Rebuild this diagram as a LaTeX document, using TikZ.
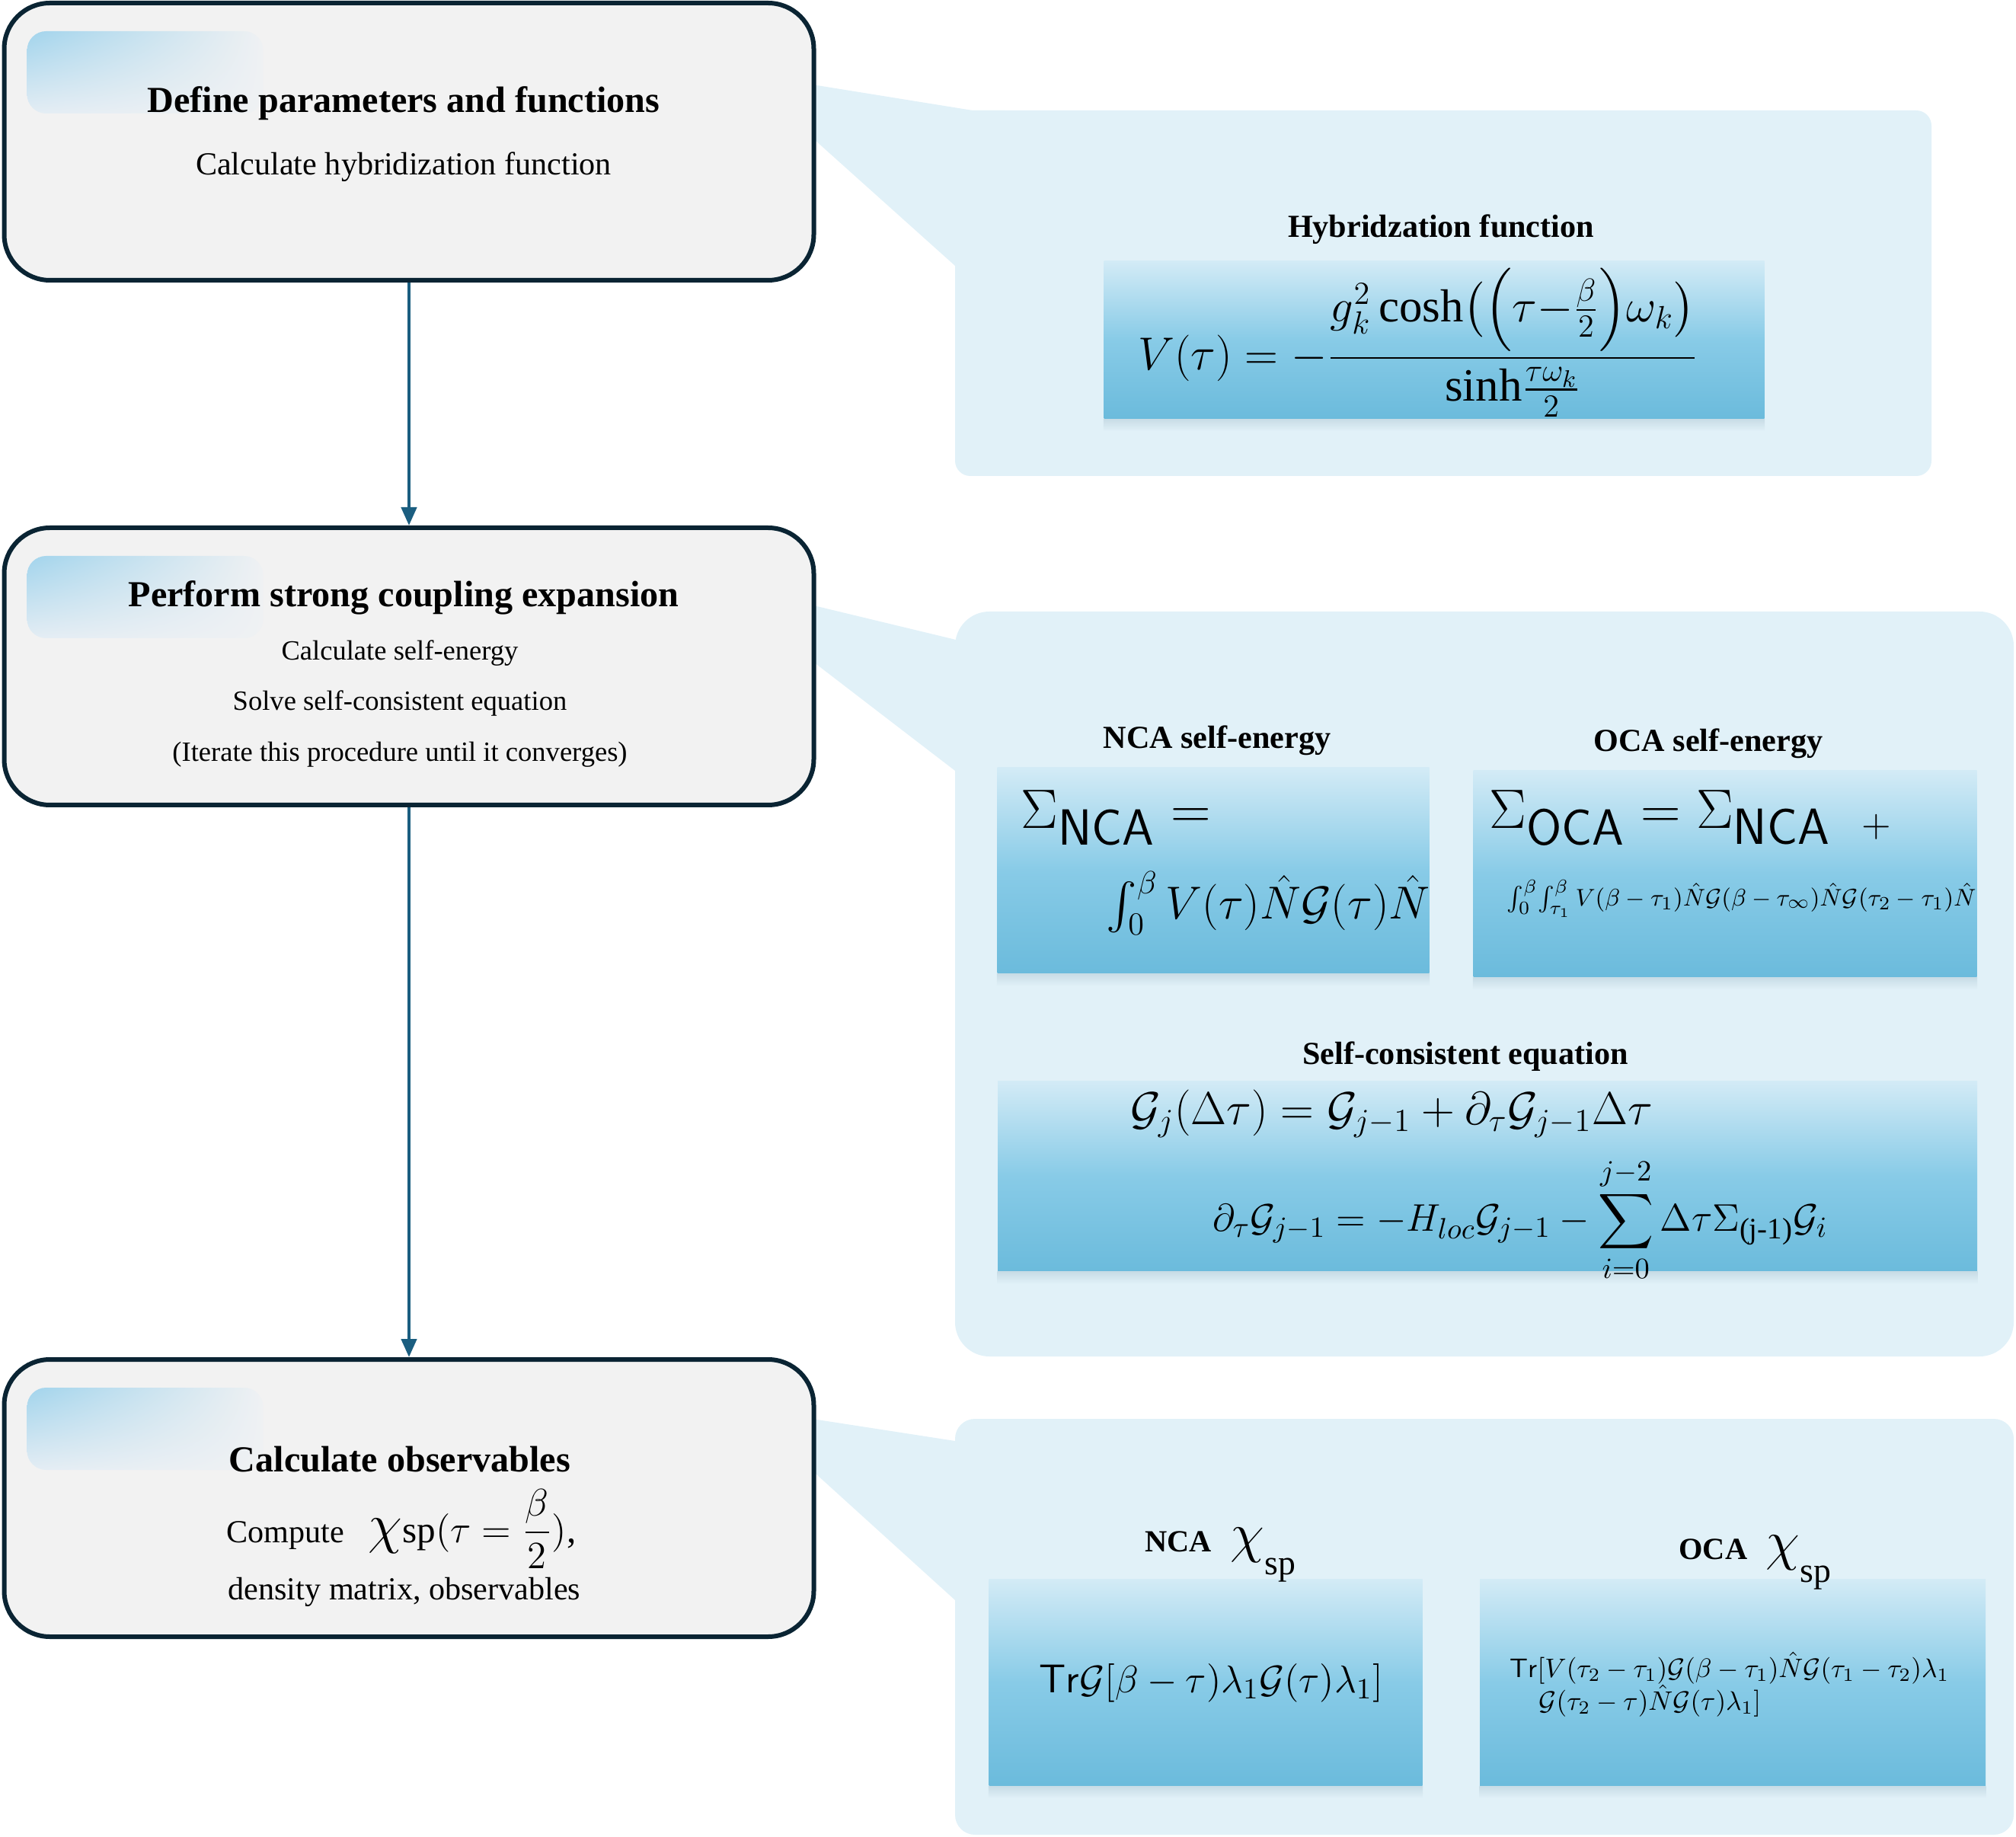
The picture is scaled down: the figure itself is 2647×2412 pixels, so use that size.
\documentclass[tikz,border=0pt]{standalone}
\usepackage{amsmath}
\usepackage{fontspec}
\setmainfont{Liberation Serif}
\usetikzlibrary{arrows.meta, shadings}
\definecolor{stageline}{HTML}{0A2433}
\definecolor{stagefill}{HTML}{F2F2F2}
\definecolor{flowc}{HTML}{1B5E80}
\definecolor{panelc}{HTML}{E1F1F8}
\definecolor{shadc}{HTML}{C8DCE6}
\definecolor{eqtop}{HTML}{D3EBF6}
\definecolor{eqmid}{HTML}{88CBE7}
\definecolor{eqbot}{HTML}{6BBBDC}
\definecolor{shineA}{HTML}{A2D4EC}
\definecolor{shineB}{HTML}{EFF1F3}
\definecolor{shineC}{HTML}{E4EDF4}
\newcommand{\fsz}[1]{\fontsize{#1}{#1}\selectfont}
\newcommand{\sfsub}[1]{\mbox{\fsz{19}\sffamily #1}}

\begin{document}
\begin{tikzpicture}[x=0.1mm, y=-0.1mm,
    stage/.style={draw=stageline, line width=0.6mm, fill=stagefill, rounded corners=6mm,
      minimum width=106.3mm, minimum height=36.4mm, inner sep=0pt},
    shine/.style={rounded corners=2.5mm, upper left=shineA, upper right=shineB,
      lower left=shineC, lower right=shineB},
    flow/.style={draw=flowc, line width=0.45mm, -{Triangle[length=2.4mm, width=2mm]}},
    panel/.style={fill=panelc},
    eqbox/.style={inner sep=0pt, top color=eqtop, bottom color=eqbot, middle color=eqmid},
    eq/.style={anchor=west, inner sep=0pt},
    hdr/.style={anchor=base, font=\fsz{13.7}\bfseries},
    note/.style={anchor=base, font=\fsz{10.4}},
    eqhdr/.style={anchor=base, font=\fsz{12}\bfseries}]
\useasboundingbox (0,0) rectangle (2647,2412);

\fill[panel] (1060,110) -- (1277,145) -- (1320,145) -- (1320,349) -- (1254,349) -- (1060,175) -- cycle;
\fill[panel] (1060,793) -- (1255,840) -- (1320,840) -- (1320,1012) -- (1254,1012) -- (1060,863) -- cycle;
\fill[panel] (1060,1862) -- (1254,1892) -- (1320,1892) -- (1320,2101) -- (1254,2101) -- (1060,1925) -- cycle;
\fill[panel, rounded corners=2mm] (1254,145) rectangle (2536,625);
\fill[panel, rounded corners=4.5mm] (1254,803) rectangle (2644,1781);
\fill[panel, rounded corners=2.6mm] (1254,1863) rectangle (2644,2409);

\node[stage] (def) at (537,186) {};
\node[stage] (sce) at (537,875) {};
\node[stage] (obs) at (537,1967) {};
\foreach \b in {def,sce,obs}
  \shade[shine] ([shift={(33,40)}]\b.north west) rectangle ++(310,108);

\draw[flow] (def) -- (sce);
\draw[flow] (sce) -- (obs);

\node[hdr] (defT) at (530,148) {Define parameters and functions};
\node[note, font=\fsz{12}] (defS) at (530,230) {Calculate hybridization function};
\node[hdr] (sceT) at (530,797) {Perform strong coupling expansion};
\node[note] (sceA) at (525,867) {Calculate self-energy};
\node[note] (sceB) at (525,933) {Solve self-consistent equation};
\node[note] (sceC) at (525,1000) {(Iterate this procedure until it converges)};
\node[hdr] (obsT) at (525,1932) {Calculate observables};
\node[note, font=\fsz{12}] (obsA) at (527,2025)
  {Compute\hspace{9pt}{\fsz{20}$\chi$}{\fsz{14}sp$(\tau=\dfrac{\beta}{2})$,}};
\node[note, font=\fsz{12}] (obsB) at (531,2100) {density matrix, observables};

\node[eqbox, minimum width=86.7mm, minimum height=20.7mm] (hyb) at (1883,446) {};
\node[eqbox, minimum width=56.7mm, minimum height=27mm] (nca) at (1593,1143) {};
\node[eqbox, minimum width=66.1mm, minimum height=27.1mm] (oca) at (2265,1147) {};
\node[eqbox, minimum width=128.6mm, minimum height=25mm] (sc) at (1953,1544) {};
\node[eqbox, minimum width=56.9mm, minimum height=27.1mm] (nchi) at (1583,2209) {};
\node[eqbox, minimum width=66.4mm, minimum height=27.1mm] (ochi) at (2275,2209) {};
\foreach \b in {hyb,nca,oca,sc,nchi,ochi}
  \shade[top color=shadc, bottom color=panelc] (\b.south west) rectangle ([yshift=-1.6mm]\b.south east);

\node[eqhdr] (hybT) at (1892,312) {Hybridzation function};
\node[font=\fsz{17.3}, inner sep=0pt] (hybF) at (1862,450)
  {$V(\tau)=-\dfrac{g_k^2\cosh\!\big(\Bigl(\tau{-}\frac{\beta}{2}\Bigr)\omega_k\big)}{\sinh\!\frac{\tau\omega_k}{2}}$};

\node[eqhdr] (ncaT) at (1598,983) {NCA self-energy};
\node[eq, font=\fsz{22}] (ncaA) at (1340,1074) {$\Sigma_{\sfsub{NCA}}=$};
\node[eq, font=\fsz{17.5}] (ncaB) at (1452,1186)
  {$\int_0^\beta V(\tau)\hat{N}\mathcal{G}(\tau)\hat{N}$};

\node[eqhdr] (ocaT) at (2243,987) {OCA self-energy};
\node[eq, font=\fsz{22}] (ocaA) at (1955,1074)
  {$\Sigma_{\sfsub{OCA}}=\Sigma_{\sfsub{NCA}}\;\;{}_{+}$};
\node[eq, font=\fsz{9.3}] (ocaB) at (1978,1180)
  {$\int_0^\beta\!\int_{\tau_1}^\beta V(\beta-\tau_1)\hat{N}\mathcal{G}(\beta-\tau_\infty)\hat{N}\mathcal{G}(\tau_2-\tau_1)\hat{N}$};

\node[eqhdr] (scT) at (1924,1397) {Self-consistent equation};
\node[eq, font=\fsz{18}] (scA) at (1484,1462)
  {$\mathcal{G}_j(\Delta\tau)=\mathcal{G}_{j-1}+\partial_\tau\mathcal{G}_{j-1}\Delta\tau$};
\node[eq, font=\fsz{15.8}] (scB) at (1592,1602)
  {$\displaystyle\partial_\tau\mathcal{G}_{j-1}=-H_{loc}\mathcal{G}_{j-1}-\sum_{i=0}^{j-2}\Delta\tau\Sigma_{\text{(j-1)}}\mathcal{G}_i$};

\node[anchor=base west, font=\fsz{11.5}\bfseries] (nchiT) at (1491,2037)
  {NCA\hspace{7pt}{\fsz{20}$\chi$}\raisebox{-8.8pt}{\fsz{13}\mdseries sp}};
\node[eq, font=\fsz{15}] (nchiF) at (1364,2210)
  {$\mathsf{Tr}\mathcal{G}[\beta-\tau)\lambda_1\mathcal{G}(\tau)\lambda_1]$};

\node[anchor=base west, font=\fsz{11.5}\bfseries] (ochiT) at (2192,2047)
  {OCA\hspace{7pt}{\fsz{20}$\chi$}\raisebox{-8.8pt}{\fsz{13}\mdseries sp}};
\node[eq, font=\fsz{10}] (ochiA) at (1982,2190)
  {$\mathsf{Tr}[V(\tau_2-\tau_1)\mathcal{G}(\beta-\tau_1)\hat{N}\mathcal{G}(\tau_1-\tau_2)\lambda_1$};
\node[eq, font=\fsz{10}] (ochiB) at (2020,2233)
  {$\mathcal{G}(\tau_2-\tau)\hat{N}\mathcal{G}(\tau)\lambda_1]$};
\end{tikzpicture}
\end{document}
